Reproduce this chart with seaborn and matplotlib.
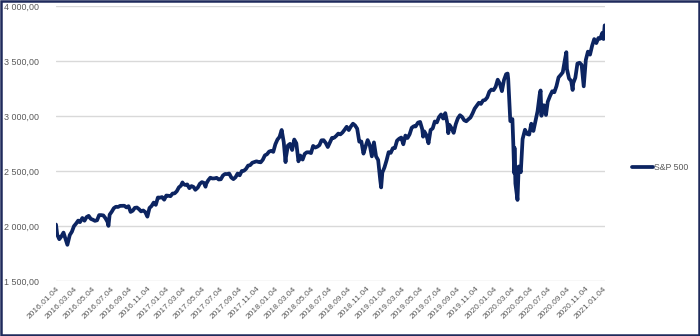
import matplotlib
matplotlib.use("Agg")
import matplotlib.pyplot as plt
import matplotlib.dates as mdates
from matplotlib.ticker import FixedLocator, FuncFormatter
from matplotlib.patches import Rectangle
import seaborn as sns
import pandas as pd

dates = [
    "2016-01-04","2016-01-08","2016-01-15","2016-01-22","2016-01-29","2016-02-05","2016-02-11","2016-02-19","2016-02-26",
    "2016-03-04","2016-03-11","2016-03-18","2016-03-24","2016-04-01","2016-04-08","2016-04-15","2016-04-22","2016-04-29",
    "2016-05-06","2016-05-13","2016-05-20","2016-05-27","2016-06-03","2016-06-10","2016-06-17","2016-06-24","2016-06-27",
    "2016-07-01","2016-07-08","2016-07-15","2016-07-22","2016-07-29","2016-08-05","2016-08-12","2016-08-19","2016-08-26",
    "2016-09-02","2016-09-09","2016-09-16","2016-09-23","2016-09-30","2016-10-07","2016-10-14","2016-10-21","2016-10-28",
    "2016-11-04","2016-11-11","2016-11-18","2016-11-25","2016-12-02","2016-12-09","2016-12-16","2016-12-23","2016-12-30",
    "2017-01-06","2017-01-13","2017-01-20","2017-01-27","2017-02-03","2017-02-10","2017-02-17","2017-02-24","2017-03-01",
    "2017-03-03","2017-03-10","2017-03-17","2017-03-24","2017-03-31","2017-04-07","2017-04-13","2017-04-21","2017-04-28",
    "2017-05-05","2017-05-12","2017-05-17","2017-05-19","2017-05-26","2017-06-02","2017-06-09","2017-06-16","2017-06-23",
    "2017-06-30","2017-07-07","2017-07-14","2017-07-21","2017-07-28","2017-08-04","2017-08-11","2017-08-18","2017-08-25",
    "2017-09-01","2017-09-08","2017-09-15","2017-09-22","2017-09-29","2017-10-06","2017-10-13","2017-10-20","2017-10-27",
    "2017-11-03","2017-11-10","2017-11-17","2017-11-24","2017-12-01","2017-12-08","2017-12-15","2017-12-22","2017-12-29",
    "2018-01-05","2018-01-12","2018-01-19","2018-01-26","2018-02-02","2018-02-08","2018-02-09","2018-02-16","2018-02-23",
    "2018-03-02","2018-03-09","2018-03-16","2018-03-23","2018-03-29","2018-04-06","2018-04-13","2018-04-20","2018-04-27",
    "2018-05-04","2018-05-11","2018-05-18","2018-05-25","2018-06-01","2018-06-08","2018-06-15","2018-06-22","2018-06-29",
    "2018-07-06","2018-07-13","2018-07-20","2018-07-27","2018-08-03","2018-08-10","2018-08-17","2018-08-24","2018-08-31",
    "2018-09-07","2018-09-14","2018-09-21","2018-09-28","2018-10-05","2018-10-12","2018-10-19","2018-10-26","2018-11-02",
    "2018-11-09","2018-11-16","2018-11-23","2018-11-30","2018-12-07","2018-12-14","2018-12-21","2018-12-24","2018-12-28",
    "2019-01-04","2019-01-11","2019-01-18","2019-01-25","2019-02-01","2019-02-08","2019-02-15","2019-02-22","2019-03-01",
    "2019-03-08","2019-03-15","2019-03-22","2019-03-29","2019-04-05","2019-04-12","2019-04-18","2019-04-26","2019-05-03",
    "2019-05-10","2019-05-13","2019-05-17","2019-05-24","2019-05-31","2019-06-07","2019-06-14","2019-06-21","2019-06-28",
    "2019-07-05","2019-07-12","2019-07-19","2019-07-26","2019-08-02","2019-08-05","2019-08-09","2019-08-16","2019-08-23",
    "2019-08-30","2019-09-06","2019-09-13","2019-09-20","2019-09-27","2019-10-04","2019-10-11","2019-10-18","2019-10-25",
    "2019-11-01","2019-11-08","2019-11-15","2019-11-22","2019-11-29","2019-12-06","2019-12-13","2019-12-20","2019-12-27",
    "2020-01-03","2020-01-10","2020-01-17","2020-01-24","2020-01-31","2020-02-07","2020-02-14","2020-02-19","2020-02-21",
    "2020-02-28","2020-03-06","2020-03-09","2020-03-12","2020-03-13","2020-03-16","2020-03-20","2020-03-23","2020-03-27",
    "2020-04-03","2020-04-09","2020-04-17","2020-04-24","2020-05-01","2020-05-08","2020-05-15","2020-05-22","2020-05-29",
    "2020-06-05","2020-06-08","2020-06-11","2020-06-12","2020-06-19","2020-06-26","2020-07-02","2020-07-10","2020-07-17",
    "2020-07-24","2020-07-31","2020-08-07","2020-08-14","2020-08-21","2020-08-28","2020-09-02","2020-09-04","2020-09-11",
    "2020-09-18","2020-09-23","2020-09-25","2020-10-02","2020-10-09","2020-10-16","2020-10-23","2020-10-30","2020-11-06",
    "2020-11-13","2020-11-20","2020-11-27","2020-12-04","2020-12-11","2020-12-18","2020-12-24","2020-12-31","2021-01-04",
    "2021-01-08",
]

sp500 = [
    2013, 1922, 1880, 1906, 1940, 1880, 1829, 1918, 1948,
    1999, 2022, 2049, 2035, 2073, 2048, 2081, 2092, 2065,
    2057, 2047, 2052, 2099, 2099, 2096, 2071, 2037, 2001,
    2103, 2130, 2162, 2175, 2173, 2183, 2184, 2184, 2169,
    2180, 2128, 2139, 2165, 2168, 2153, 2133, 2141, 2126,
    2085, 2164, 2182, 2213, 2192, 2259, 2258, 2263, 2239,
    2277, 2275, 2271, 2295, 2297, 2316, 2351, 2367, 2396,
    2383, 2373, 2378, 2344, 2363, 2355, 2329, 2349, 2384,
    2399, 2391, 2357, 2382, 2416, 2439, 2432, 2433, 2438,
    2423, 2425, 2459, 2473, 2472, 2477, 2441, 2426, 2443,
    2477, 2461, 2500, 2502, 2519, 2549, 2553, 2575, 2581,
    2588, 2582, 2579, 2602, 2642, 2652, 2676, 2683, 2674,
    2743, 2786, 2810, 2873, 2762, 2581, 2620, 2732, 2747,
    2691, 2786, 2752, 2588, 2641, 2604, 2656, 2670, 2670,
    2663, 2728, 2713, 2721, 2735, 2779, 2780, 2755, 2718,
    2760, 2801, 2802, 2819, 2840, 2833, 2850, 2875, 2902,
    2872, 2905, 2930, 2914, 2885, 2767, 2768, 2658, 2723,
    2781, 2736, 2633, 2760, 2633, 2600, 2417, 2351, 2486,
    2532, 2596, 2671, 2665, 2707, 2708, 2776, 2793, 2804,
    2743, 2822, 2800, 2834, 2893, 2907, 2905, 2940, 2946,
    2881, 2812, 2860, 2826, 2752, 2873, 2887, 2950, 2942,
    2990, 3014, 2977, 3026, 2932, 2844, 2919, 2889, 2847,
    2926, 2979, 3007, 2992, 2962, 2952, 2970, 2986, 3023,
    3067, 3093, 3120, 3110, 3141, 3146, 3169, 3221, 3240,
    3235, 3265, 3330, 3295, 3226, 3328, 3380, 3386, 3338,
    2954, 2972, 2747, 2481, 2711, 2386, 2305, 2237, 2541,
    2489, 2790, 2875, 2837, 2831, 2930, 2864, 2955, 3044,
    3194, 3232, 3002, 3041, 3098, 3009, 3130, 3185, 3225,
    3216, 3271, 3351, 3373, 3397, 3508, 3580, 3427, 3341,
    3319, 3237, 3298, 3348, 3477, 3484, 3465, 3270, 3510,
    3585, 3558, 3638, 3699, 3663, 3709, 3703, 3756, 3700,
    3824,
]

tick_dates = [f"{y}-{m:02d}-04" for y in range(2016, 2021) for m in (1, 3, 5, 7, 9, 11)] + ["2021-01-04"]
y_ticks = [1500, 2000, 2500, 3000, 3500, 4000]
series_name = "S&P 500"

df = pd.DataFrame({"date": pd.to_datetime(dates), "value": sp500, "series": series_name})

sns.set_style("white")
plt.rcParams["font.family"] = ["Liberation Sans", "DejaVu Sans"]

fig = plt.figure(figsize=(7.0, 3.36), dpi=100)
ax = fig.add_axes([56/700, 1 - 281/336, (605 - 56)/700, (281 - 6)/336])

navy = "#0c2461"
sns.lineplot(data=df, x="date", y="value", hue="series", palette=[navy],
             linewidth=2.7, ax=ax, legend=True)

ax.set_ylim(1500, 4000)
ax.set_xlim(pd.Timestamp("2016-01-04"), pd.Timestamp("2021-01-09"))
ax.yaxis.set_major_locator(FixedLocator(y_ticks))
ax.yaxis.set_major_formatter(FuncFormatter(lambda v, p: f"{v:,.2f}".replace(",", " ").replace(".", ",")))
ax.xaxis.set_major_locator(FixedLocator(mdates.date2num(pd.to_datetime(tick_dates))))
ax.xaxis.set_major_formatter(mdates.DateFormatter("%Y.%m.%d"))

ax.grid(axis="y", color="#d9d9d9", linewidth=1.0)
ax.grid(axis="x", visible=False)
for s in ["top", "right", "left", "bottom"]:
    ax.spines[s].set_visible(False)
ax.tick_params(axis="y", length=0, pad=12.5, labelsize=6.4, labelcolor="#595959")
ax.tick_params(axis="x", length=0, pad=3, labelsize=6.0, labelcolor="#595959")
for lbl in ax.get_xticklabels():
    lbl.set_rotation(45)
    lbl.set_ha("right")
    lbl.set_rotation_mode("anchor")
ax.set_xlabel("")
ax.set_ylabel("")

handles, labels = ax.get_legend_handles_labels()
leg = ax.legend(handles, labels, loc="center left", bbox_to_anchor=(626/700, 0.5),
                bbox_transform=fig.transFigure, frameon=False, fontsize=6.3,
                handlelength=2.4, handletextpad=0.15, labelcolor="#595959",
                borderpad=0.2)
for h in leg.get_lines():
    h.set_linewidth(2.7)

fig.patches.append(Rectangle((0.0015, 0.003), 0.997, 0.994, transform=fig.transFigure,
                             fill=False, edgecolor="#1f2a5c", linewidth=1.8))

fig.savefig("out.png", dpi=100)
